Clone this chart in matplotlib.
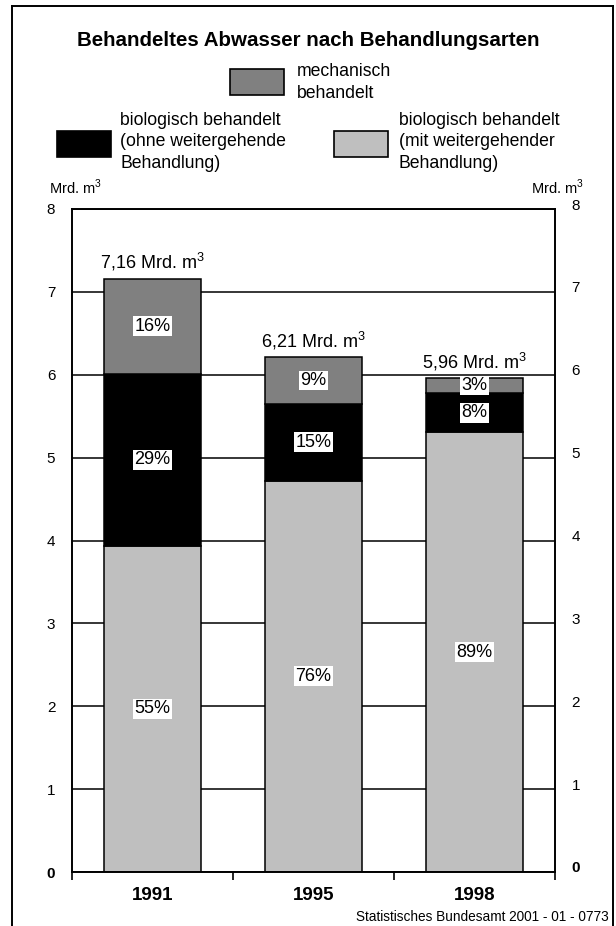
import matplotlib.pyplot as plt
from matplotlib.patches import Rectangle
from matplotlib.lines import Line2D
import matplotlib.transforms as mtransforms

plt.rcParams['font.family'] = ['Liberation Sans', 'DejaVu Sans']
plt.rcParams['mathtext.fontset'] = 'custom'
plt.rcParams['mathtext.rm'] = 'Liberation Sans'

years = ['1991', '1995', '1998']
totals = [7.16, 6.21, 5.96]          # Mrd. m3
share_mit = [55, 76, 89]             # biologisch, mit weitergehender Behandlung (%)
share_ohne = [29, 15, 8]             # biologisch, ohne weitergehende Behandlung (%)
share_mech = [16, 9, 3]              # mechanisch (%)
y_ticks = [0, 1, 2, 3, 4, 5, 6, 7, 8]

col_mit = '#bfbfbf'
col_ohne = '#000000'
col_mech = '#808080'
unit = 'Mrd. m$^{\\mathrm{3}}$'

W, H = 616, 926
fig = plt.figure(figsize=(W / 100, H / 100), dpi=100)


def fx(x):
    return x / W


def fy(y):
    return 1 - y / H


# outer frame (open at the bottom)
for xs, ys in [((12, 12), (6, 926)), ((12, 613), (6, 6)), ((613, 613), (6, 926))]:
    fig.add_artist(Line2D([fx(v) for v in xs], [fy(v) for v in ys],
                          transform=fig.transFigure, color='black', lw=1.4))

fig.text(fx(308), fy(40), 'Behandeltes Abwasser nach Behandlungsarten',
         ha='center', va='center', fontsize=14.8, fontweight='bold')

# legend
legend_items = [
    (230, 69, col_mech, 297, ['mechanisch', 'behandelt'], 72),
    (57, 131, col_ohne, 120, ['biologisch behandelt', '(ohne weitergehende', 'Behandlung)'], 121),
    (334, 131, col_mit, 399, ['biologisch behandelt', '(mit weitergehender', 'Behandlung)'], 121),
]
for rx, ry, col, tx, lines, ty in legend_items:
    fig.add_artist(Rectangle((fx(rx), fy(ry + 26)), 54 / W, 26 / H,
                             transform=fig.transFigure, facecolor=col,
                             edgecolor='black', lw=1.2))
    for i, s in enumerate(lines):
        fig.text(fx(tx), fy(ty + 21 * i), s, ha='left', va='center', fontsize=12.7)

fig.text(fx(49), fy(187), unit, ha='left', va='center', fontsize=10.5)
fig.text(fx(584), fy(187), unit, ha='right', va='center', fontsize=10.5)

ax = fig.add_axes([fx(72), fy(872), (555 - 72) / W, (872 - 209) / H])

x = [0.5, 1.5, 2.5]
h_mit = [t * s / 100 for t, s in zip(totals, share_mit)]
h_ohne = [t * s / 100 for t, s in zip(totals, share_ohne)]
h_mech = [t * s / 100 for t, s in zip(totals, share_mech)]
b_ohne = h_mit
b_mech = [a + b for a, b in zip(h_mit, h_ohne)]

bw = 0.6
ax.bar(x, h_mit, bw, color=col_mit, edgecolor='black', lw=1.1, zorder=2)
ax.bar(x, h_ohne, bw, bottom=b_ohne, color=col_ohne, edgecolor='black', lw=1.1, zorder=2)
ax.bar(x, h_mech, bw, bottom=b_mech, color=col_mech, edgecolor='black', lw=1.1, zorder=2)

box = dict(facecolor='white', edgecolor='none', pad=1.0)
for i in range(3):
    for bot, hh, s in [(0, h_mit[i], share_mit[i]), (b_ohne[i], h_ohne[i], share_ohne[i]),
                       (b_mech[i], h_mech[i], share_mech[i])]:
        ax.text(x[i], bot + hh / 2, f'{s}%', ha='center', va='center',
                fontsize=13, bbox=box, zorder=4)
    lbl = f'{totals[i]:.2f}'.replace('.', ',') + ' ' + unit
    ax.annotate(lbl, (x[i], totals[i]), xytext=(0, 4), textcoords='offset points',
                ha='center', va='bottom', fontsize=13, zorder=4)

ax.set_xlim(0, 3)
ax.set_ylim(0, 8)
ax.set_yticks(y_ticks)
ax.yaxis.grid(True, color='black', lw=1.1)
ax.set_axisbelow(True)

ax.set_xticks([0, 1, 2, 3])
ax.set_xticklabels([])
ax.set_xticks(x, minor=True)
ax.set_xticklabels(years, minor=True, fontsize=13.5, fontweight='bold')
ax.tick_params(axis='x', which='major', direction='out', length=6, width=1.2)
ax.tick_params(axis='x', which='minor', length=0, pad=11)
ax.tick_params(axis='y', length=0, labelsize=11, pad=12, labelright=True)

for sp in ax.spines.values():
    sp.set_linewidth(1.4)

up = mtransforms.ScaledTranslation(0, 5 / 100, fig.dpi_scale_trans)
for i, tk in enumerate(ax.yaxis.get_major_ticks()):
    tk.label2.set_transform(tk.label2.get_transform() + up)
    if i == 0:
        tk.label1.set_fontweight('bold')
        tk.label2.set_fontweight('bold')

fig.text(fx(609), fy(917), 'Statistisches Bundesamt 2001 - 01 - 0773',
         ha='right', va='center', fontsize=9.8)

fig.savefig('out.png', dpi=100)
